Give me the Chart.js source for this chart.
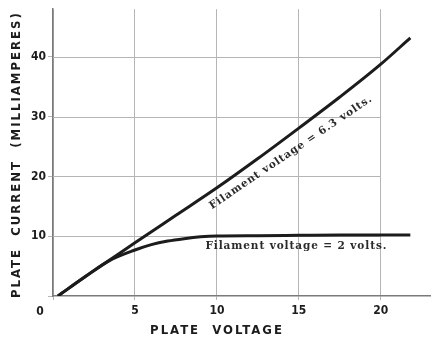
<!DOCTYPE html>
<html>
<head>
<meta charset="utf-8">
<script src="https://cdn.jsdelivr.net/npm/chart.js@4/dist/chart.umd.min.js"></script>
<style>
  html, body { margin: 0; padding: 0; background: #fff; }
  #wrap { width: 433px; height: 344px; position: relative; }
</style>
</head>
<body>
<div id="wrap"><canvas id="chart"></canvas></div>
<script>
// plate voltage (V) vs plate current (mA)
const volts63 = [0.3, 2, 3.5, 5, 7.5, 10, 12.5, 15, 17.5, 20, 21.8];
const amps63 = [0, 3.3, 6.1, 8.9, 13.5, 18.1, 23.0, 28.1, 33.3, 38.8, 43.2];

const volts2 = [0.3, 2, 3.5, 5, 6, 7, 8, 9, 10, 12.5, 15, 17.5, 20, 21.8];
const amps2 = [0, 3.3, 6.0, 7.7, 8.6, 9.2, 9.6, 9.9, 10.05, 10.1, 10.15, 10.2, 10.2, 10.2];

const xTicks = [0, 5, 10, 15, 20];
const yTicks = [0, 10, 20, 30, 40];

const label63 = "Filament voltage = 6.3 volts.";
const label2 = "Filament voltage = 2 volts.";
const xTitle = "PLATE  VOLTAGE";
const yTitle = "PLATE  CURRENT  (MILLIAMPERES)";

const condensed = "'DejaVu Sans Condensed', 'Liberation Sans Narrow', sans-serif";
const serif = "'DejaVu Serif', 'Liberation Serif', serif";
const inkColor = "#1c1c1c";
const gridColor = "#b5b5b5";
const axisColor = "#7a7a7a";

const toPoints = (xs, ys) => xs.map((x, i) => ({ x: x, y: ys[i] }));

// grid lines, titles and curve labels drawn through the scales
const extrasPlugin = {
    id: "extras",
    beforeDatasetsDraw(chart) {
        const ctx = chart.ctx;
        const xs = chart.scales.x, ys = chart.scales.y;
        ctx.save();
        ctx.strokeStyle = gridColor;
        ctx.lineWidth = 1;
        yTicks.slice(1).forEach(v => {
            const py = Math.round(ys.getPixelForValue(v)) + 0.5;
            ctx.beginPath();
            ctx.moveTo(xs.getPixelForValue(0), py);
            ctx.lineTo(xs.getPixelForValue(xTicks[xTicks.length - 1]), py);
            ctx.stroke();
        });
        ctx.restore();
    },
    afterDraw(chart) {
        const ctx = chart.ctx;
        const xs = chart.scales.x, ys = chart.scales.y;
        ctx.save();
        ctx.fillStyle = inkColor;

        // shared origin "0"
        ctx.font = "bold 12px " + condensed;
        ctx.textAlign = "center";
        ctx.textBaseline = "middle";
        ctx.fillText("0", xs.getPixelForValue(0) - 13, ys.getPixelForValue(0) + 16);

        // axis titles
        ctx.font = "bold 13px " + condensed;
        ctx.letterSpacing = "2px";
        ctx.fillText(xTitle, 217, 331);
        ctx.save();
        ctx.translate(17, (chart.chartArea.top + chart.chartArea.bottom) / 2 + 2);
        ctx.rotate(-Math.PI / 2);
        ctx.fillText(yTitle, 0, 0);
        ctx.restore();

        // curve labels
        ctx.fillStyle = "#2a2a2a";
        ctx.font = "bold 10.5px " + serif;
        ctx.letterSpacing = "0.9px";
        const i = volts63.indexOf(10), j = volts63.indexOf(20);
        const ax = xs.getPixelForValue(volts63[i]), ay = ys.getPixelForValue(amps63[i]);
        const bx = xs.getPixelForValue(volts63[j]), by = ys.getPixelForValue(amps63[j]);
        const ang = Math.atan2(by - ay, bx - ax) + 0.05;
        ctx.save();
        ctx.translate(xs.getPixelForValue(14.0), ys.getPixelForValue(26.1));
        ctx.rotate(ang);
        ctx.textAlign = "center";
        ctx.textBaseline = "middle";
        ctx.fillText(label63, 0, 15);
        ctx.restore();

        ctx.textAlign = "left";
        ctx.textBaseline = "top";
        ctx.fillText(label2, xs.getPixelForValue(9.3), ys.getPixelForValue(10.2) + 6);
        ctx.restore();
    }
};

new Chart(document.getElementById("chart"), {
    type: "scatter",
    data: {
        datasets: [
            {
                label: label63,
                data: toPoints(volts63, amps63),
                showLine: true,
                borderColor: inkColor,
                borderWidth: 3,
                pointRadius: 0,
                cubicInterpolationMode: "monotone"
            },
            {
                label: label2,
                data: toPoints(volts2, amps2),
                showLine: true,
                borderColor: inkColor,
                borderWidth: 3,
                pointRadius: 0,
                cubicInterpolationMode: "monotone"
            }
        ]
    },
    options: {
        responsive: true,
        maintainAspectRatio: false,
        animation: false,
        layout: { padding: { top: 8, right: 3, left: 0, bottom: 0 } },
        plugins: {
            legend: { display: false },
            tooltip: { enabled: false }
        },
        scales: {
            x: {
                type: "linear",
                min: 0,
                max: 23,
                afterBuildTicks: axis => { axis.ticks = xTicks.map(v => ({ value: v })); },
                afterFit: axis => { axis.height = 48; },
                ticks: {
                    padding: 4,
                    color: inkColor,
                    font: { family: condensed, size: 12, weight: "bold" },
                    callback: v => (v === 0 ? "" : v)
                },
                grid: { color: gridColor, lineWidth: 1, tickLength: 4 },
                border: { color: axisColor, width: 1.5 }
            },
            y: {
                type: "linear",
                min: 0,
                max: 48,
                afterBuildTicks: axis => { axis.ticks = yTicks.map(v => ({ value: v })); },
                afterFit: axis => { axis.width = 53; },
                ticks: {
                    padding: 2,
                    color: inkColor,
                    font: { family: condensed, size: 12, weight: "bold" },
                    callback: v => (v === 0 ? "" : v)
                },
                grid: { color: gridColor, lineWidth: 1, tickLength: 5, drawOnChartArea: false },
                border: { color: axisColor, width: 1.5 }
            }
        }
    },
    plugins: [extrasPlugin]
});
</script>
</body>
</html>
